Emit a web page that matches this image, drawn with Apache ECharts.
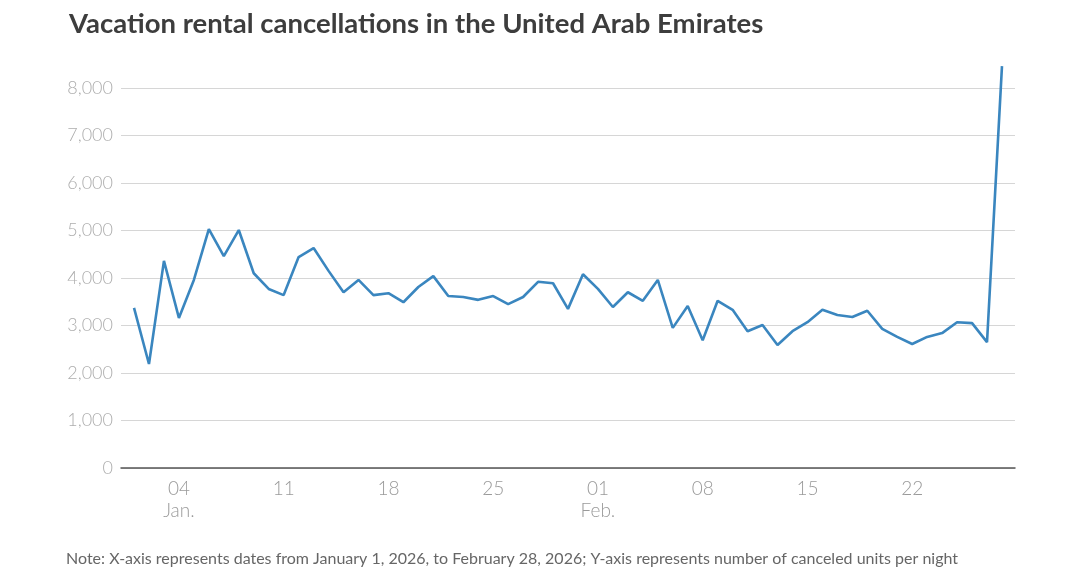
<!DOCTYPE html>
<html>
<head>
<meta charset="utf-8">
<script src="https://cdn.jsdelivr.net/npm/echarts@6/dist/echarts.min.js"></script>
<style>
html,body{margin:0;padding:0;background:#fff;}
#c{width:1080px;height:568px;}
</style>
</head>
<body>
<div id="c"></div>
<script>
// Days from January 1, 2026 (index 0) to February 28, 2026 (index 58)
const dayIndex = Array.from({length: 59}, (_, i) => i);
const cancellations = [
  3370, 2190, 4360, 3160, 3960, 5030, 4460, 5010, 4100, 3770,
  3640, 4440, 4630, 4150, 3700, 3960, 3640, 3680, 3490, 3810,
  4040, 3620, 3600, 3540, 3620, 3450, 3600, 3920, 3890, 3350,
  4080, 3770, 3390, 3700, 3520, 3960, 2950, 3410, 2690, 3520,
  3330, 2880, 3010, 2590, 2880, 3070, 3330, 3220, 3180, 3310,
  2930, 2760, 2610, 2760, 2840, 3070, 3050, 2650, 8460
];
const tickDays = [3, 10, 17, 24, 31, 38, 45, 52];
const tickLabels = ['04\nJan.', '11', '18', '25', '01\nFeb.', '08', '15', '22'];
const yTicks = [0, 1000, 2000, 3000, 4000, 5000, 6000, 7000, 8000];

const chart = echarts.init(document.getElementById('c'));
chart.setOption({
  animation: false,
  backgroundColor: '#ffffff',
  title: {
    text: 'Vacation rental cancellations in the United Arab Emirates',
    left: 64, top: 5,
    textStyle: {fontFamily: 'Lato', fontWeight: 'bold', fontSize: 27.5, color: '#3d3d3d'}
  },
  graphic: [{
    type: 'text', left: 66, top: 551,
    style: {
      text: 'Note: X-axis represents dates from January 1, 2026, to February 28, 2026; Y-axis represents number of canceled units per night',
      fontFamily: 'Lato', fontSize: 16, fill: '#666666'
    }
  }],
  grid: {left: 121, right: 65, top: 59.5, bottom: 100},
  xAxis: {
    type: 'value', min: -0.87, max: 58.87,
    splitLine: {show: false},
    axisTick: {show: false},
    axisLine: {show: true, onZero: false, lineStyle: {color: '#555555', width: 1.5}},
    axisLabel: {
      customValues: tickDays,
      formatter: v => tickLabels[tickDays.indexOf(Math.round(v))] || '',
      color: '#9a9a9a', fontFamily: 'Lato', fontWeight: 300, fontSize: 19, lineHeight: 22, margin: 10
    }
  },
  yAxis: {
    type: 'value', min: 0, max: 8600, interval: 1000,
    axisLine: {show: false}, axisTick: {show: false},
    splitLine: {show: true, showMaxLine: false, lineStyle: {color: '#d6d6d6', width: 1}},
    axisLabel: {
      showMaxLabel: false,
      formatter: v => yTicks.includes(v) ? v.toLocaleString('en-US') : '',
      color: '#adadad', fontFamily: 'Lato', fontWeight: 300, fontSize: 18, margin: 8
    }
  },
  series: [{
    type: 'line',
    data: dayIndex.map((d, i) => [d, cancellations[i]]),
    symbol: 'none',
    lineStyle: {color: '#3a86bf', width: 2.6},
    clip: false
  }]
});
</script>
</body>
</html>
